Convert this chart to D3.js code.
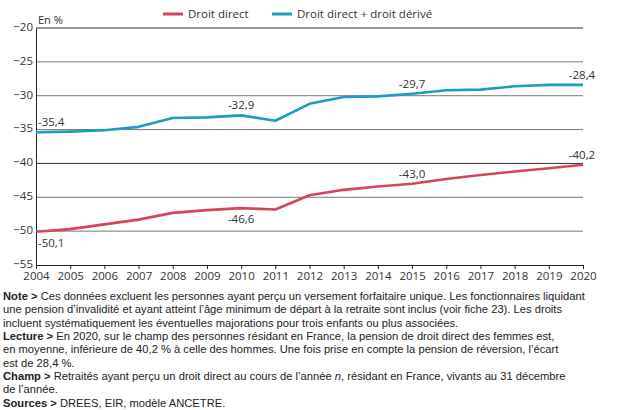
<!DOCTYPE html>
<html>
<head>
<meta charset="utf-8">
<script src="https://cdn.jsdelivr.net/npm/d3@7"></script>
<style>
  body { margin: 0; background: #fff; }
  svg text { font-family: "Open Sans", "DejaVu Sans", sans-serif; }
  .note { font-family: "Liberation Sans Narrow", "Liberation Sans", sans-serif; font-size: 11.2px; fill: #222; }
</style>
</head>
<body>
<svg id="chart" width="627" height="410"></svg>
<script>
// data
const years = [2004, 2005, 2006, 2007, 2008, 2009, 2010, 2011, 2012, 2013, 2014, 2015, 2016, 2017, 2018, 2019, 2020];
const droitDirect = [-50.1, -49.7, -49.0, -48.3, -47.3, -46.9, -46.6, -46.8, -44.7, -43.9, -43.4, -43.0, -42.3, -41.7, -41.2, -40.7, -40.2];
const droitDerive = [-35.4, -35.3, -35.1, -34.6, -33.3, -33.2, -32.9, -33.7, -31.2, -30.2, -30.1, -29.7, -29.2, -29.1, -28.6, -28.4, -28.4];
const yTicks = [-20, -25, -30, -35, -40, -45, -50, -55];
const seriesNames = ["Droit direct", "Droit direct + droit dérivé"];
const seriesColors = ["#d7425c", "#1b9dbd"];
// labelled points: [series index, year, text, position]
const pointLabels = [
  [1, 2004, "-35,4", "above"], [1, 2010, "-32,9", "above"], [1, 2015, "-29,7", "above"], [1, 2020, "-28,4", "above"],
  [0, 2004, "-50,1", "below"], [0, 2010, "-46,6", "below"], [0, 2015, "-43,0", "above"], [0, 2020, "-40,2", "above"]
];
const noteLines = [
  [["Note > ", true], ["Ces données excluent les personnes ayant perçu un versement forfaitaire unique. Les fonctionnaires liquidant", false]],
  [["une pension d’invalidité et ayant atteint l’âge minimum de départ à la retraite sont inclus (voir fiche 23). Les droits", false]],
  [["incluent systématiquement les éventuelles majorations pour trois enfants ou plus associées.", false]],
  [["Lecture > ", true], ["En 2020, sur le champ des personnes résidant en France, la pension de droit direct des femmes est,", false]],
  [["en moyenne, inférieure de 40,2 % à celle des hommes. Une fois prise en compte la pension de réversion, l’écart", false]],
  [["est de 28,4 %.", false]],
  [["Champ > ", true], ["Retraités ayant perçu un droit direct au cours de l’année ", false], ["n", "i"], [", résidant en France, vivants au 31 décembre", false]],
  [["de l’année.", false]],
  [["Sources > ", true], ["DREES, EIR, modèle ANCETRE.", false]]
];

const svg = d3.select("#chart");
const x = d3.scaleLinear().domain([2004, 2020]).range([36, 583]);
const y = d3.scaleLinear().domain([-55, -20]).range([265, 28]);
const series = [droitDirect, droitDerive];

// grid
svg.append("g").selectAll("line").data(yTicks.filter(d => d > -55)).join("line")
  .attr("x1", 36).attr("x2", 583)
  .attr("y1", d => y(d)).attr("y2", d => y(d))
  .attr("stroke", d => (d === -20 || d === -40) ? "#333" : "#777")
  .attr("stroke-width", 1);

// y axis
const yAxis = svg.append("g").attr("transform", "translate(36,0)")
  .call(d3.axisLeft(y).tickValues(yTicks).tickSize(0).tickPadding(3));
yAxis.select(".domain").attr("stroke", "#222");
yAxis.selectAll("text").attr("font-size", 11.5).attr("fill", "#333").attr("font-family", "Open Sans, sans-serif")
  .attr("dy", "0.2em");

// x axis
const xAxis = svg.append("g").attr("transform", "translate(0,265)")
  .call(d3.axisBottom(x).tickValues(years).tickFormat(d3.format("d")).tickSizeInner(4).tickSizeOuter(0).tickPadding(3));
xAxis.select(".domain").attr("stroke", "#222");
xAxis.selectAll("line").attr("stroke", "#222");
xAxis.selectAll("text").attr("font-size", 11.5).attr("fill", "#333").attr("font-family", "Open Sans, sans-serif");

svg.append("text").attr("x", 38).attr("y", 24).attr("font-size", 11).attr("fill", "#333").text("En %");

// lines
const line = d3.line().x((d, i) => x(years[i])).y(d => y(d));
series.forEach((s, k) => {
  svg.append("path").datum(s)
    .attr("fill", "none").attr("stroke", seriesColors[k]).attr("stroke-width", 2.6)
    .attr("stroke-linejoin", "round").attr("d", line);
});

// value labels
pointLabels.forEach(([k, yr, txt, pos]) => {
  const v = series[k][years.indexOf(yr)];
  svg.append("text")
    .attr("x", yr === 2020 ? x(yr) - 1 : (yr === 2004 ? x(yr) + 2 : x(yr)))
    .attr("y", pos === "above" ? y(v) - 6 : y(v) + 15)
    .attr("text-anchor", yr === 2004 ? "start" : "middle")
    .attr("font-size", 11.5).attr("fill", "#333")
    .text(txt);
});

// legend
const leg = svg.append("g");
[[163, 188], [272, 297]].forEach(([lx, tx], k) => {
  leg.append("line").attr("x1", lx).attr("x2", lx + 20).attr("y1", 14).attr("y2", 14)
    .attr("stroke", seriesColors[k]).attr("stroke-width", 3);
  leg.append("text").attr("x", tx).attr("y", 18).attr("font-size", 11.5).attr("fill", "#333").text(seriesNames[k]);
});

// notes
noteLines.forEach((parts, i) => {
  const t = svg.append("text").attr("class", "note").attr("x", 3).attr("y", 300 + i * 13.35);
  parts.forEach(([s, b]) => {
    t.append("tspan").text(s)
      .attr("font-weight", b === true ? "bold" : null)
      .attr("font-style", b === "i" ? "italic" : null);
  });
});
</script>
</body>
</html>
